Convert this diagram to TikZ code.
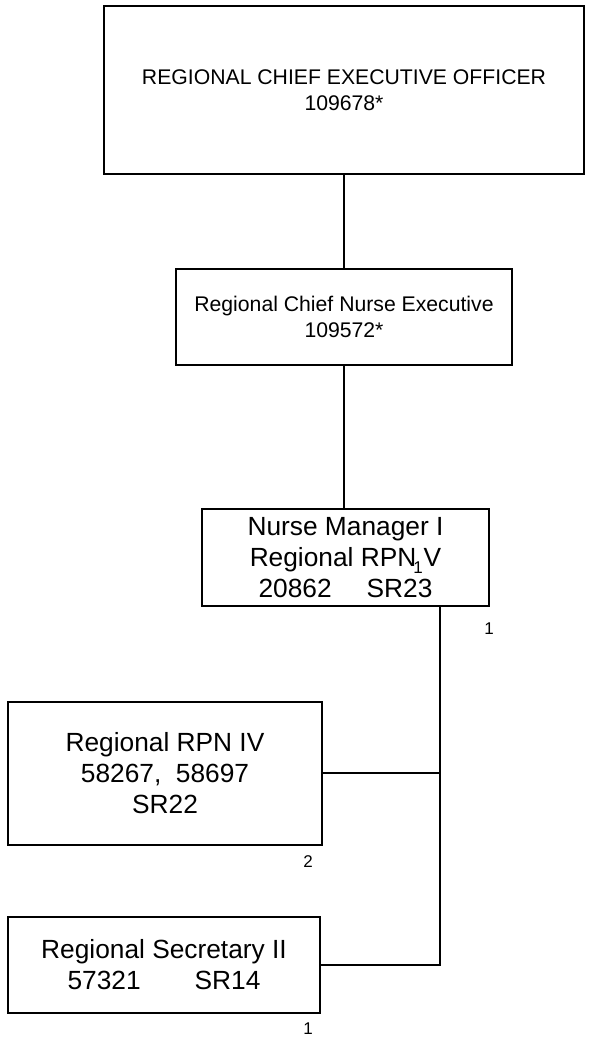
\documentclass[tikz,border=0pt]{standalone}
\usepackage{fontspec}
\setmainfont{Liberation Sans}
\tikzset{
  box/.style={draw=black, line width=1.2pt, inner sep=0pt, align=center, anchor=center},
  conn/.style={draw=black, line width=1.5pt},
  numlbl/.style={inner sep=0pt, font=\fontsize{17}{20}\selectfont},
  smalltxt/.style={font=\fontsize{21.2}{25.5}\selectfont},
  bigtxt/.style={font=\fontsize{26.3}{31}\selectfont}
}
\begin{document}
\begin{tikzpicture}[x=1pt, y=-1pt]
\useasboundingbox (0,0) rectangle (591,1045);
\node[box, smalltxt, minimum width=480pt, minimum height=168pt] (ceo) at (344,90)
  {REGIONAL CHIEF EXECUTIVE OFFICER\\109678*};
\node[box, smalltxt, minimum width=336pt, minimum height=96pt] (rcne) at (344,317)
  {Regional Chief Nurse Executive\\109572*};
\node[box, bigtxt, minimum width=287pt, minimum height=97pt] (nm) at (345.5,557.5)
  {Nurse Manager I\\Regional RPN V\\20862\hspace{35pt}SR23};
\node[box, bigtxt, minimum width=314pt, minimum height=143pt] (rpn) at (165,773.5)
  {Regional RPN IV\\58267,\ \ 58697\\SR22};
\node[box, bigtxt, minimum width=312pt, minimum height=96pt] (sec) at (164,965)
  {Regional Secretary II\\57321\hspace{54pt}SR14};
\coordinate (j1) at (440,773);
\coordinate (j2) at (440,965);
\draw[conn] (ceo.south) -- (rcne.north);
\draw[conn] (rcne.south) -- (rcne.south |- nm.north);
\draw[conn] (nm.south -| j2) -- (j2) -- (sec.east |- j2);
\draw[conn] (rpn.east |- j1) -- (j1);
\node[numlbl] (n1) at (489,629) {1};
\node[numlbl] (n2) at (308,862) {2};
\node[numlbl] (n3) at (308,1029) {1};
\node[numlbl] (n4) at (418,568) {1};
\end{tikzpicture}
\end{document}
